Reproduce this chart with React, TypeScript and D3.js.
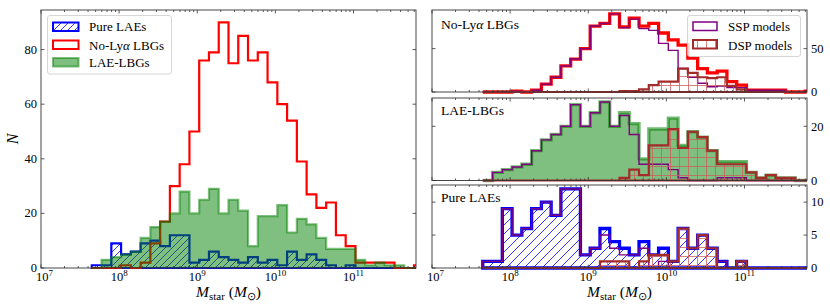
import React from 'react';
import * as d3 from 'd3';

// log10(M) bin edges: 7.65 + 0.125*k
const binStartLog = 7.65;
const binWidthLog = 0.125;
const nBins = 34;
const binEdges = d3.range(nBins + 1).map((k) => Math.pow(10, binStartLog + k * binWidthLog));

// No-Lya LBGs
const noLyaTotal = [0, 0, 0, 1, 0, 2, 9, 17, 30, 38, 50, 76, 79, 90, 75, 85, 76, 79, 68, 60, 54, 39, 27, 22, 24, 12, 8, 2, 2, 2, 2, 0, 0, 1];
const noLyaSSP = [0, 0, 0, 1, 0, 2, 9, 17, 30, 38, 50, 76, 79, 90, 74, 84, 73, 71, 56, 48, 27, 17, 10, 6, 7, 5, 5, 2, 2, 2, 2, 0, 0, 1];
const noLyaDSP = [0, 0, 0, 0, 0, 0, 0, 0, 0, 0, 0, 0, 0, 0, 1, 1, 3, 8, 12, 12, 27, 22, 17, 16, 17, 7, 3, 0, 0, 0, 0, 0, 0, 0];

// LAE-LBGs
const laeLbgTotal = [0, 3, 4, 5, 6, 11, 15, 17, 20, 28, 20, 25, 29, 20, 25, 21, 8, 19, 19, 23, 13, 18, 16, 11, 7, 7, 7, 3, 1, 2, 1, 1, 0, 0];
const laeLbgSSP = [0, 3, 4, 5, 6, 11, 15, 17, 20, 28, 20, 25, 29, 20, 24, 17, 6, 6, 6, 4, 1, 0, 0, 0, 1, 1, 1, 0, 0, 0, 0, 0, 0, 0];
const laeLbgDSP = [0, 0, 0, 0, 0, 0, 0, 0, 0, 0, 0, 0, 0, 0, 1, 4, 2, 13, 13, 19, 12, 18, 16, 11, 6, 6, 6, 3, 1, 2, 1, 1, 0, 0];

// Pure LAEs
const pureTotal = [1, 1, 9, 5, 6, 9, 10, 8, 12, 12, 2, 3, 6, 4, 3, 2, 4, 2, 3, 1, 6, 3, 5, 3, 1, 0, 1, 0, 0, 0, 0, 0, 0, 0];
const pureSSP = [1, 1, 9, 5, 6, 9, 10, 8, 12, 12, 2, 3, 5, 3, 2, 2, 3, 0, 1, 0, 0, 0, 0, 0, 1, 0, 0, 0, 0, 0, 0, 0, 0, 0];
const pureDSP = [0, 0, 0, 0, 0, 0, 0, 0, 0, 0, 0, 0, 1, 1, 1, 0, 1, 2, 2, 1, 6, 3, 5, 3, 0, 0, 1, 0, 0, 0, 0, 0, 0, 0];

const leftYTicks = [0, 20, 40, 60, 80];
const topYTicks = [0, 50];
const midYTicks = [0, 20];
const botYTicks = [0, 5, 10];
const xMajorExps = [7, 8, 9, 10, 11];
const xMax = Math.pow(10, 11.8);

const serif = "'Liberation Serif', 'Times New Roman', serif";
const frameColor = '#333333';
const RED = '#ff0000';
const BLUE = '#0000ff';
const GREEN = '#008000';
const PURPLE = '#800080';
const BROWN = '#a52a2a';

type Scale = (v: number) => number;

function stepPath(x: Scale, y: Scale, vals: number[], closed = false) {
  const pts: [number, number][] = [[binEdges[0], 0]];
  vals.forEach((v, i) => {
    pts.push([binEdges[i], v]);
    pts.push([binEdges[i + 1], v]);
  });
  pts.push([binEdges[vals.length], 0]);
  const d = d3
    .line<[number, number]>()
    .x((p) => x(p[0]))
    .y((p) => y(p[1]))(pts) as string;
  return closed ? d + 'Z' : d;
}

const xTickVals: { v: number; major: boolean }[] = [];
xMajorExps.forEach((e) => {
  for (let m = 1; m <= 9; m++) {
    const v = m * Math.pow(10, e);
    if (v <= xMax) xTickVals.push({ v, major: m === 1 });
  }
});

function XTicks({ x, y0, y1 }: { x: Scale; y0: number; y1: number }) {
  return (
    <g stroke={frameColor} strokeWidth={0.8}>
      {xTickVals.map((t, i) => {
        const px = x(t.v);
        const len = t.major ? 3.5 : 2;
        return (
          <g key={i}>
            <line x1={px} x2={px} y1={y1} y2={y1 - len} />
            <line x1={px} x2={px} y1={y0} y2={y0 + len} />
          </g>
        );
      })}
    </g>
  );
}

function YTicks({ y, x0, x1, ticks }: { y: Scale; x0: number; x1: number; ticks: number[] }) {
  return (
    <g stroke={frameColor} strokeWidth={0.8}>
      {ticks.map((t) => (
        <g key={t}>
          <line x1={x0} x2={x0 + 3.5} y1={y(t)} y2={y(t)} />
          <line x1={x1} x2={x1 - 3.5} y1={y(t)} y2={y(t)} />
        </g>
      ))}
    </g>
  );
}

function XLabels({ x, yBase }: { x: Scale; yBase: number }) {
  return (
    <g fontFamily={serif} fontSize={12.5} fill="#000">
      {xMajorExps.map((e) => (
        <text key={e} x={x(Math.pow(10, e)) + (e === 7 ? 3.5 : 0)} y={yBase} textAnchor="middle">
          10
          <tspan fontSize={9} dy={-5}>
            {e}
          </tspan>
        </text>
      ))}
    </g>
  );
}

function XTitle({ cx }: { cx: number }) {
  return (
    <text x={cx} y={297} textAnchor="middle" fontFamily={serif} fontSize={15.5} fill="#000">
      <tspan fontStyle="italic">M</tspan>
      <tspan fontSize={11} dy={3}>star</tspan>
      <tspan dy={-3}> (</tspan>
      <tspan fontStyle="italic">M</tspan>
      <tspan fontSize={11} dy={3}>⊙</tspan>
      <tspan dy={-3}>)</tspan>
    </text>
  );
}

export default function App() {
  const L = { x0: 41, x1: 416, y0: 10, y1: 268 };
  const R = { x0: 432, x1: 807 };
  const T = { y0: 10, y1: 92 };
  const M = { y0: 98, y1: 180.5 };
  const B = { y0: 185, y1: 268 };

  const xL = d3.scaleLog().domain([1e7, xMax]).range([L.x0, L.x1]);
  const xR = d3.scaleLog().domain([1e7, xMax]).range([R.x0, R.x1]);
  const yL = d3.scaleLinear().domain([0, 94.5]).range([L.y1, L.y0]);
  const yT = d3.scaleLinear().domain([0, 94.5]).range([T.y1, T.y0]);
  const yM = d3.scaleLinear().domain([0, 30.45]).range([M.y1, M.y0]);
  const yB = d3.scaleLinear().domain([0, 12.6]).range([B.y1, B.y0]);

  return (
    <svg
      width={830}
      height={308}
      style={{ position: 'absolute', left: 0, top: 0, background: '#fff' }}
      xmlns="http://www.w3.org/2000/svg"
    >
      <defs>
        <pattern id="hatchBlue7" patternUnits="userSpaceOnUse" width={7} height={7}>
          <path d="M-1,1 l2,-2 M0,7 l7,-7 M6,8 l2,-2" stroke={BLUE} strokeWidth={0.8} />
        </pattern>
        <pattern id="hatchBlue9" patternUnits="userSpaceOnUse" width={9} height={9}>
          <path d="M-1,1 l2,-2 M0,9 l9,-9 M8,10 l2,-2" stroke={BLUE} strokeWidth={0.8} />
        </pattern>
        <pattern id="plusHatch" patternUnits="userSpaceOnUse" width={9} height={9}>
          <path d="M4.5,0 V9 M0,4.5 H9" stroke="#cc5c5c" strokeWidth={0.9} strokeOpacity={0.85} />
        </pattern>
        <clipPath id="clipL">
          <rect x={L.x0} y={L.y0 - 3} width={L.x1 - L.x0} height={L.y1 - L.y0 + 6} />
        </clipPath>
        <clipPath id="clipT">
          <rect x={R.x0} y={T.y0 - 3} width={R.x1 - R.x0} height={T.y1 - T.y0 + 6} />
        </clipPath>
        <clipPath id="clipM">
          <rect x={R.x0} y={M.y0 - 3} width={R.x1 - R.x0} height={M.y1 - M.y0 + 6} />
        </clipPath>
        <clipPath id="clipB">
          <rect x={R.x0} y={B.y0 - 3} width={R.x1 - R.x0} height={B.y1 - B.y0 + 6} />
        </clipPath>
      </defs>

      {/* ---------------- LEFT PANEL ---------------- */}
      <g clipPath="url(#clipL)">
        <path d={stepPath(xL, yL, pureTotal, true)} fill="url(#hatchBlue7)" stroke={BLUE} strokeWidth={2.2} strokeLinejoin="miter" />
        <path d={stepPath(xL, yL, noLyaTotal)} fill="none" stroke={RED} strokeWidth={2.2} />
        <path d={stepPath(xL, yL, laeLbgTotal, true)} fill={GREEN} fillOpacity={0.5} stroke="none" />
        <path d={stepPath(xL, yL, laeLbgTotal)} fill="none" stroke={GREEN} strokeOpacity={0.5} strokeWidth={2.2} />
      </g>
      <rect x={L.x0} y={L.y0} width={L.x1 - L.x0} height={L.y1 - L.y0} fill="none" stroke={frameColor} strokeWidth={0.9} />
      <XTicks x={xL} y0={L.y0} y1={L.y1} />
      <YTicks y={yL} x0={L.x0} x1={L.x1} ticks={leftYTicks} />
      <g fontFamily={serif} fontSize={12.5} fill="#000">
        {leftYTicks.map((t) => (
          <text key={t} x={37} y={yL(t) + 4} textAnchor="end">
            {t}
          </text>
        ))}
      </g>
      <XLabels x={xL} yBase={281} />
      <XTitle cx={(L.x0 + L.x1) / 2} />
      <text
        transform={`translate(17.5,139) rotate(-90)`}
        textAnchor="middle"
        fontFamily={serif}
        fontStyle="italic"
        fontSize={16}
        fill="#000"
      >
        N
      </text>

      {/* left legend */}
      <rect x={47.5} y={15.5} width={124} height={58.5} rx={2.5} fill="#fff" fillOpacity={0.8} stroke="#cccccc" strokeWidth={0.8} />
      <rect x={53} y={22.5} width={25.5} height={8.5} fill="url(#hatchBlue7)" stroke={BLUE} strokeWidth={2} />
      <rect x={53} y={40.5} width={25.5} height={8.5} fill="#fff" stroke={RED} strokeWidth={2} />
      <rect x={53} y={58} width={25.5} height={8.5} fill={GREEN} fillOpacity={0.5} stroke={GREEN} strokeOpacity={0.5} strokeWidth={2} />
      <g fontFamily={serif} fontSize={13} fill="#000">
        <text x={89} y={31}>Pure LAEs</text>
        <text x={89} y={49.5}>
          No-Ly<tspan fontStyle="italic">α</tspan> LBGs
        </text>
        <text x={89} y={67}>LAE-LBGs</text>
      </g>

      {/* ---------------- RIGHT TOP ---------------- */}
      <g clipPath="url(#clipT)">
        <path d={stepPath(xR, yT, noLyaTotal)} fill="none" stroke={RED} strokeWidth={3.3} />
        <path d={stepPath(xR, yT, noLyaSSP)} fill="none" stroke={PURPLE} strokeWidth={1.4} />
        <path d={stepPath(xR, yT, noLyaDSP, true)} fill="url(#plusHatch)" stroke={BROWN} strokeWidth={2.2} />
      </g>
      <rect x={R.x0} y={T.y0} width={R.x1 - R.x0} height={T.y1 - T.y0} fill="none" stroke={frameColor} strokeWidth={0.9} />
      <XTicks x={xR} y0={T.y0} y1={T.y1} />
      <YTicks y={yT} x0={R.x0} x1={R.x1} ticks={topYTicks} />

      {/* ---------------- RIGHT MIDDLE ---------------- */}
      <g clipPath="url(#clipM)">
        <path d={stepPath(xR, yM, laeLbgTotal, true)} fill={GREEN} fillOpacity={0.5} stroke="none" />
        <path d={stepPath(xR, yM, laeLbgTotal)} fill="none" stroke={GREEN} strokeOpacity={0.55} strokeWidth={3.3} />
        <path d={stepPath(xR, yM, laeLbgSSP)} fill="none" stroke={PURPLE} strokeWidth={1.4} />
        <path d={stepPath(xR, yM, laeLbgDSP, true)} fill="url(#plusHatch)" stroke={BROWN} strokeWidth={2.2} />
      </g>
      <rect x={R.x0} y={M.y0} width={R.x1 - R.x0} height={M.y1 - M.y0} fill="none" stroke={frameColor} strokeWidth={0.9} />
      <XTicks x={xR} y0={M.y0} y1={M.y1} />
      <YTicks y={yM} x0={R.x0} x1={R.x1} ticks={midYTicks} />

      {/* ---------------- RIGHT BOTTOM ---------------- */}
      <g clipPath="url(#clipB)">
        <path d={stepPath(xR, yB, pureTotal, true)} fill="url(#hatchBlue9)" stroke={BLUE} strokeWidth={3.3} />
        <path d={stepPath(xR, yB, pureSSP)} fill="none" stroke={PURPLE} strokeWidth={1.4} />
        <path d={stepPath(xR, yB, pureDSP, true)} fill="url(#plusHatch)" stroke={BROWN} strokeWidth={2.2} />
      </g>
      <rect x={R.x0} y={B.y0} width={R.x1 - R.x0} height={B.y1 - B.y0} fill="none" stroke={frameColor} strokeWidth={0.9} />
      <XTicks x={xR} y0={B.y0} y1={B.y1} />
      <YTicks y={yB} x0={R.x0} x1={R.x1} ticks={botYTicks} />
      <XLabels x={xR} yBase={281} />
      <XTitle cx={(R.x0 + R.x1) / 2} />

      {/* right y labels */}
      <g fontFamily={serif} fontSize={12.5} fill="#000">
        {topYTicks.map((t) => (
          <text key={'t' + t} x={811} y={yT(t) + 4.3}>{t}</text>
        ))}
        {midYTicks.map((t) => (
          <text key={'m' + t} x={811} y={yM(t) + 4.3}>{t}</text>
        ))}
        {botYTicks.map((t) => (
          <text key={'b' + t} x={811} y={yB(t) + 4.3}>{t}</text>
        ))}
      </g>

      {/* panel titles */}
      <g fontFamily={serif} fontSize={13.5} fill="#000">
        <text x={441} y={28.5}>
          No-Ly<tspan fontStyle="italic">α</tspan> LBGs
        </text>
        <text x={441} y={115}>LAE-LBGs</text>
        <text x={441} y={202}>Pure LAEs</text>
      </g>

      {/* right legend */}
      <rect x={687.5} y={15.5} width={113} height={41} rx={2.5} fill="#fff" fillOpacity={0.8} stroke="#cccccc" strokeWidth={0.8} />
      <rect x={693} y={22} width={24} height={8.5} fill="#fff" stroke={PURPLE} strokeWidth={1.5} />
      <rect x={693} y={40} width={24} height={8.5} fill="url(#plusHatch)" stroke={BROWN} strokeWidth={2} />
      <g fontFamily={serif} fontSize={13} fill="#000">
        <text x={728} y={31}>SSP models</text>
        <text x={728} y={49.5}>DSP models</text>
      </g>
    </svg>
  );
}
